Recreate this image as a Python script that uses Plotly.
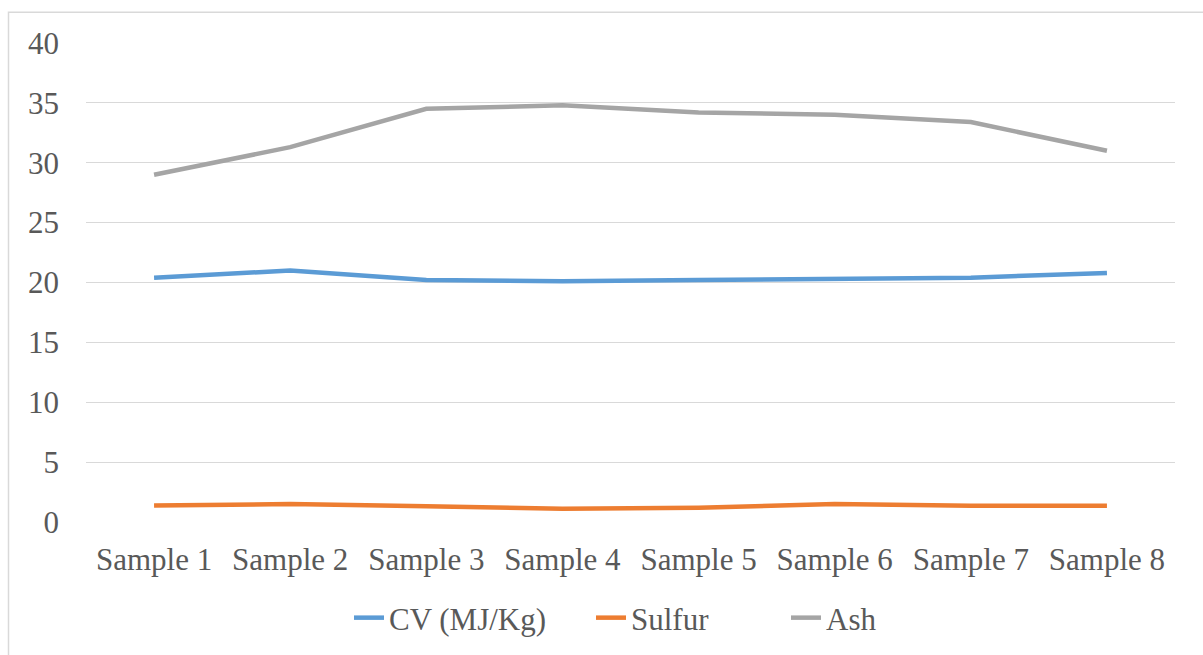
import plotly.graph_objects as go

# Coal quality results per sample
samples = ["Sample 1", "Sample 2", "Sample 3", "Sample 4",
           "Sample 5", "Sample 6", "Sample 7", "Sample 8"]
cv_mj_kg = [20.4, 21.0, 20.2, 20.1, 20.2, 20.3, 20.4, 20.8]
sulfur = [1.37, 1.5, 1.32, 1.1, 1.2, 1.5, 1.36, 1.36]
ash = [29.0, 31.3, 34.5, 34.8, 34.2, 34.0, 33.4, 31.0]

y_ticks = [0, 5, 10, 15, 20, 25, 30, 35, 40]

FONT = "Liberation Serif, Times New Roman, serif"
TEXT = "#595959"
GRID = "#D9D9D9"

L, R, T, B = 86, 28, 42.5, 133.3
W, H = 1203, 655
PW = W - L - R
PH = H - T - B


def px_x(px):
    return (px - L) / PW


def px_y(py):
    return (H - B - py) / PH


series = [
    ("CV (MJ/Kg)", cv_mj_kg, "#5B9BD5", "legend", 349),
    ("Sulfur", sulfur, "#ED7D31", "legend2", 591),
    ("Ash", ash, "#A5A5A5", "legend3", 786),
]

fig = go.Figure()
legend_layouts = {}
for name, vals, color, leg, left in series:
    fig.add_trace(go.Scatter(
        x=samples, y=vals, name=name, mode="lines",
        line=dict(color=color, width=4.5),
        hoverinfo="skip", legend=leg,
    ))
    # legends are placed in container pixels so they don't resize the plot area
    legend_layouts[leg] = dict(
        orientation="h",
        xref="container", x=left / W, xanchor="left",
        yref="container", y=1 - 618 / H, yanchor="middle",
        font=dict(family=FONT, size=31, color=TEXT),
        bgcolor="rgba(0,0,0,0)", borderwidth=0,
    )

fig.update_layout(
    width=W, height=H,
    margin=dict(l=L, r=R, t=T, b=B, pad=0),
    paper_bgcolor="white", plot_bgcolor="white",
    font=dict(family=FONT, size=31, color=TEXT),
    showlegend=True,
    **legend_layouts,
    xaxis=dict(
        range=[-0.5, len(samples) - 0.5],
        showgrid=False, zeroline=False, showline=False,
        ticks="", ticklabelstandoff=16,
        tickfont=dict(family=FONT, size=31, color=TEXT),
    ),
    yaxis=dict(
        range=[0, 40], tickvals=y_ticks,
        showgrid=True, gridcolor=GRID, gridwidth=1.2,
        zeroline=False, showline=False, ticks="",
        ticklabelstandoff=26,
        tickfont=dict(family=FONT, size=31, color=TEXT),
    ),
    shapes=[dict(
        type="rect", xref="paper", yref="paper",
        x0=px_x(8.5), x1=px_x(1230), y0=px_y(700), y1=px_y(11.7),
        line=dict(color=GRID, width=1.5), fillcolor="rgba(0,0,0,0)",
        layer="below",
    )],
)

fig.write_html("out.html")
